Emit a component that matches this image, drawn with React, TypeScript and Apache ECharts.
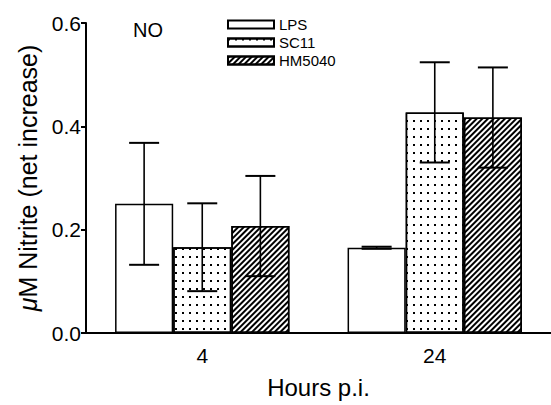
import React, { useEffect, useRef } from "react";
import * as echarts from "echarts";

const categories = ["4", "24"];
const seriesNames = ["LPS", "SC11", "HM5040"];
const lpsValues = [0.25, 0.165];
const sc11Values = [0.166, 0.427];
const hmValues = [0.207, 0.417];
const lpsErr = [0.118, 0.002];
const sc11Err = [0.085, 0.097];
const hmErr = [0.097, 0.097];
const yTicks = [0, 0.2, 0.4, 0.6];

const FONT = "Liberation Sans, Arial, Helvetica, sans-serif";

export default function App() {
  const ref = useRef<HTMLDivElement>(null);
  useEffect(() => {
    document.body.style.margin = "0";
    if (!ref.current) return;
    const chart = echarts.init(ref.current, undefined, { renderer: "svg" });
    const means = [lpsValues, sc11Values, hmValues];
    const errs = [lpsErr, sc11Err, hmErr];
    const errData: number[][] = [];
    means.forEach((vals, si) => {
      vals.forEach((v, ci) => {
        errData.push([ci, v - errs[si][ci], v + errs[si][ci], si]);
      });
    });
    const decals: any[] = [
      "none",
      {
        symbol: "rect",
        symbolSize: 1,
        color: "#000",
        backgroundColor: "#fff",
        dashArrayX: [1.3, 4.7],
        dashArrayY: [1.3, 5.2],
        rotation: 0,
      },
      {
        symbol: "rect",
        symbolSize: 1,
        color: "#000",
        backgroundColor: "#fff",
        dashArrayX: [1, 0],
        dashArrayY: [1.1, 2.0],
        rotation: -Math.PI / 4,
      },
    ];
    const barSeries = seriesNames.map((name, si) => ({
      name,
      type: "bar",
      data: means[si],
      barGap: "0%",
      barCategoryGap: "25%",
      itemStyle: {
        color: "#fff",
        borderColor: "#000",
        borderWidth: 1.5,
        decal: decals[si],
      },
    }));
    chart.setOption({
      animation: false,
      textStyle: { fontFamily: FONT },
      grid: { left: 86, top: 23, right: 0, bottom: 72, containLabel: false },
      legend: {
        orient: "vertical",
        left: 222,
        top: 12,
        icon: "rect",
        itemWidth: 46,
        itemHeight: 8,
        itemGap: 3,
        data: seriesNames,
        textStyle: { fontFamily: FONT, fontSize: 15, color: "#000" },
      },
      graphic: [
        {
          type: "text",
          left: 133,
          top: 20,
          style: { text: "NO", fontFamily: FONT, fontSize: 20, fill: "#000" },
        },
      ],
      xAxis: {
        type: "category",
        data: categories,
        name: "Hours p.i.",
        nameLocation: "middle",
        nameGap: 42,
        nameTextStyle: { fontFamily: FONT, fontSize: 24, color: "#000" },
        axisLine: { lineStyle: { color: "#000", width: 2 } },
        axisTick: { alignWithLabel: true, length: 7, lineStyle: { color: "#000", width: 2 } },
        axisLabel: { fontFamily: FONT, fontSize: 21, color: "#000", margin: 12 },
      },
      yAxis: {
        type: "value",
        min: 0,
        max: 0.6,
        interval: 0.2,
        name: "{mu|μ}M Nitrite (net increase)",
        nameLocation: "middle",
        nameGap: 44,
        nameTextStyle: {
          fontFamily: FONT,
          fontSize: 25,
          color: "#000",
          rich: { mu: { fontStyle: "italic", fontFamily: FONT, fontSize: 25, color: "#000" } },
        },
        splitLine: { show: false },
        axisLine: { show: true, lineStyle: { color: "#000", width: 2 } },
        axisTick: { show: true, length: 5, lineStyle: { color: "#000", width: 2 } },
        axisLabel: {
          fontFamily: FONT,
          fontSize: 21,
          color: "#000",
          margin: 5,
          formatter: (v: number) => (yTicks.includes(+v.toFixed(1)) ? v.toFixed(1) : ""),
        },
      },
      series: [
        ...barSeries,
        {
          type: "custom",
          name: "err",
          data: errData,
          encode: { x: 0, y: [1, 2] },
          z: 5,
          renderItem: (params: any, api: any) => {
            const ci = api.value(0);
            const lo = api.value(1);
            const hi = api.value(2);
            const si = api.value(3);
            const bandW = api.size([1, 0])[0];
            const barW = (bandW * 0.75) / 3;
            const pHi = api.coord([ci, hi]);
            const pLo = api.coord([ci, lo]);
            const x = pHi[0] + (si - 1) * barW;
            const cap = 15;
            const st = { stroke: "#000", lineWidth: 1.6 };
            return {
              type: "group",
              children: [
                { type: "line", shape: { x1: x, y1: pHi[1], x2: x, y2: pLo[1] }, style: st },
                { type: "line", shape: { x1: x - cap, y1: pHi[1], x2: x + cap, y2: pHi[1] }, style: { stroke: "#000", lineWidth: 2 } },
                { type: "line", shape: { x1: x - cap, y1: pLo[1], x2: x + cap, y2: pLo[1] }, style: { stroke: "#000", lineWidth: 2 } },
              ],
            };
          },
        },
      ],
    });
    return () => chart.dispose();
  }, []);
  return <div ref={ref} style={{ width: 551, height: 405 }} />;
}
